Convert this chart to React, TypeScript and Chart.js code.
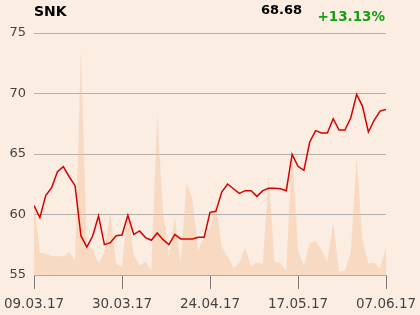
import React, { useEffect, useRef } from "react";
import { Chart, registerables } from "chart.js";

Chart.register(...registerables);

const symbol = "SNK";
const lastPrice = "68.68";
const change = "+13.13%";

const tickIndices = [0, 15, 30, 45, 60];
const tickLabels = ["09.03.17", "30.03.17", "24.04.17", "17.05.17", "07.06.17"];

const price = [
  60.73, 59.74, 61.56, 62.22, 63.54, 63.95, 63.12, 62.38, 58.25, 57.31,
  58.22, 59.88, 57.51, 57.67, 58.25, 58.3, 59.93, 58.36, 58.64, 58.09,
  57.87, 58.47, 57.92, 57.51, 58.36, 57.98, 57.98, 57.98, 58.11, 58.11,
  60.18, 60.26, 61.86, 62.52, 62.13, 61.75, 61.97, 61.97, 61.5, 61.97,
  62.16, 62.16, 62.13, 61.97, 64.97, 63.98, 63.65, 65.99, 66.93, 66.74,
  66.74, 67.92, 66.98, 66.98, 68.0, 69.93, 68.94, 66.82, 67.81, 68.55,
  68.68,
];

const volume = [
  30.3, 9.2, 8.8, 7.7, 7.8, 7.6, 9.5, 5.8, 92.6, 11.7,
  10.7, 4.8, 9.6, 25.9, 4.8, 3.4, 26.9, 8.3, 3.9, 5.5,
  2.1, 66.5, 25.9, 7.4, 24.1, 5.1, 37.9, 31.4, 10.0, 16.5,
  19.3, 30.0, 11.7, 7.6, 2.8, 5.1, 11.4, 3.4, 5.4, 4.5,
  40.9, 5.5, 5.1, 1.7, 52.3, 10.3, 3.7, 13.1, 14.0, 10.3,
  5.5, 21.8, 1.4, 1.7, 9.6, 48.2, 14.5, 4.8, 5.2, 2.6,
  11.7,
];

const BG = "rgb(251,237,225)";

export default function App() {
  const ref = useRef<HTMLCanvasElement | null>(null);

  useEffect(() => {
    if (!ref.current) return;
    const chart = new Chart(ref.current, {
      type: "line",
      data: {
        datasets: [
          {
            label: "Price",
            data: price.map((v, i) => ({ x: i, y: v })),
            borderColor: "rgb(214,0,0)",
            borderWidth: 1.5,
            pointRadius: 0,
            tension: 0,
            fill: false,
            yAxisID: "y",
            order: 0,
          },
          {
            label: "Volume",
            data: volume.map((v, i) => ({ x: i, y: v })),
            borderWidth: 0,
            borderColor: "rgba(0,0,0,0)",
            backgroundColor: "rgba(244,196,160,0.45)",
            pointRadius: 0,
            tension: 0,
            fill: "origin",
            yAxisID: "vol",
            order: 1,
          },
        ],
      },
      options: {
        responsive: false,
        animation: false,
        layout: { padding: { top: 33, right: 34, left: 0, bottom: 0 } },
        plugins: { legend: { display: false }, tooltip: { enabled: false } },
        scales: {
          x: {
            type: "linear",
            min: 0,
            max: 60,
            afterBuildTicks: (scale: any) => {
              scale.ticks = tickIndices.map((v) => ({ value: v }));
            },
            afterFit: (scale: any) => {
              scale.height = 40;
              scale.paddingLeft = 0;
              scale.paddingRight = 0;
            },
            ticks: {
              autoSkip: false,
              maxRotation: 0,
              padding: 7,
              color: "#444",
              font: { family: "DejaVu Sans", size: 13.5 },
              callback: (v: any) => {
                const k = tickIndices.indexOf(Number(v));
                return k >= 0 ? tickLabels[k] : "";
              },
            },
            grid: {
              drawOnChartArea: false,
              drawTicks: true,
              tickLength: 14,
              color: "#7a7776",
            },
            border: { display: true, color: "#aeaaa7" },
          },
          y: {
            position: "left",
            min: 55,
            max: 75,
            afterFit: (scale: any) => {
              scale.width = 34;
            },
            ticks: {
              stepSize: 5,
              padding: 8,
              color: "#444",
              font: { family: "DejaVu Sans", size: 13 },
            },
            grid: { color: "#b3afac", drawTicks: false, lineWidth: 1 },
            border: { display: false },
          },
          vol: {
            display: false,
            min: 0,
            max: 100,
          },
        },
      },
    });
    return () => chart.destroy();
  }, []);

  const txt: React.CSSProperties = {
    position: "absolute",
    fontFamily: "DejaVu Sans",
    fontWeight: "bold",
    lineHeight: 1,
    whiteSpace: "nowrap",
  };

  return (
    <div
      style={{
        position: "fixed",
        left: 0,
        top: 0,
        width: 420,
        height: 315,
        background: BG,
        overflow: "hidden",
      }}
    >
      <canvas ref={ref} width={420} height={315} style={{ display: "block" }} />
      <div style={{ ...txt, left: 34, top: 4, fontSize: 14, color: "#000" }}>{symbol}</div>
      <div style={{ ...txt, right: 118, top: 3, fontSize: 13, color: "#000", textAlign: "right" }}>{lastPrice}</div>
      <div style={{ ...txt, right: 35, top: 9.5, fontSize: 13.5, color: "rgb(20,160,20)", textAlign: "right" }}>{change}</div>
    </div>
  );
}
